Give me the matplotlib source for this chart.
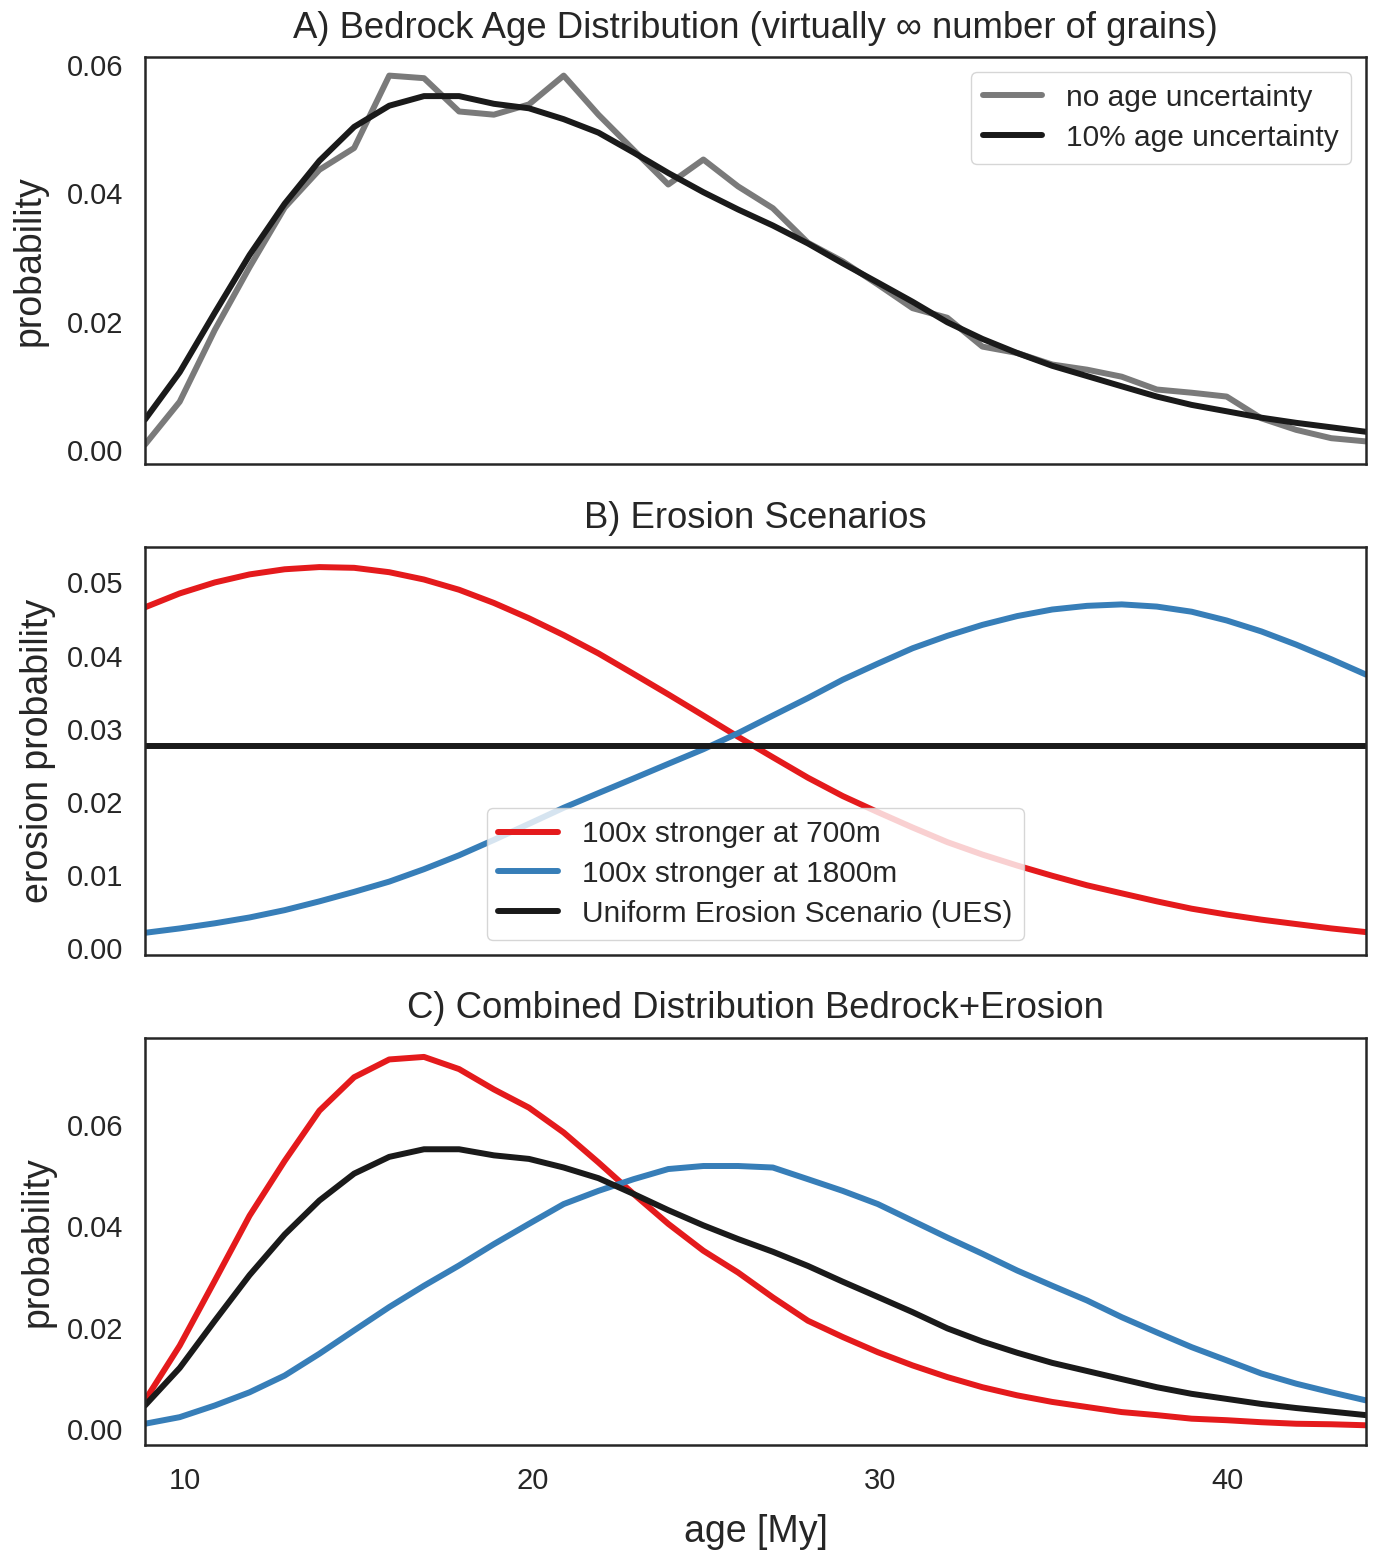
import matplotlib
matplotlib.use("Agg")
import matplotlib.pyplot as plt
import seaborn as sns

sns.set_style("white")
plt.rcParams['font.family'] = ['Liberation Sans', 'DejaVu Sans']

# age grid [My]
ages = [8.85, 9.85, 10.86, 11.86, 12.87, 13.87, 14.87, 15.88, 16.88, 17.89,
        18.89, 19.90, 20.90, 21.90, 22.91, 23.91, 24.92, 25.92, 26.92, 27.93,
        28.93, 29.94, 30.94, 31.94, 32.95, 33.95, 34.96, 35.96, 36.96, 37.97,
        38.97, 39.98, 40.98, 41.98, 42.99, 43.99]

# A) bedrock age distribution
bedrock_raw = [0.0008, 0.0075, 0.0187, 0.0285, 0.0378, 0.0437, 0.0471, 0.0584, 0.0580, 0.0528,
               0.0523, 0.0539, 0.0584, 0.0523, 0.0468, 0.0414, 0.0453, 0.0411, 0.0377, 0.0323,
               0.0294, 0.0258, 0.0221, 0.0206, 0.0161, 0.0151, 0.0133, 0.0125, 0.0114, 0.0094,
               0.0089, 0.0083, 0.0049, 0.0031, 0.0018, 0.0013]
bedrock_10pct = [0.0047, 0.0121, 0.0214, 0.0304, 0.0384, 0.0451, 0.0504, 0.0537, 0.0552, 0.0552,
                 0.0540, 0.0533, 0.0516, 0.0495, 0.0464, 0.0432, 0.0402, 0.0375, 0.0350, 0.0322,
                 0.0291, 0.0261, 0.0231, 0.0199, 0.0173, 0.0151, 0.0131, 0.0115, 0.0099, 0.0083,
                 0.0070, 0.0060, 0.0050, 0.0042, 0.0035, 0.0028]

# B) erosion scenarios
erosion_700 = [0.0466, 0.0485, 0.0500, 0.0511, 0.0518, 0.0521, 0.0520, 0.0514, 0.0504, 0.0490,
               0.0472, 0.0451, 0.0428, 0.0403, 0.0375, 0.0347, 0.0318, 0.0289, 0.0261, 0.0233,
               0.0208, 0.0186, 0.0165, 0.0145, 0.0128, 0.0113, 0.0099, 0.0086, 0.0075, 0.0064,
               0.0054, 0.0046, 0.0039, 0.0033, 0.0027, 0.0022]
erosion_1800 = [0.0021, 0.0027, 0.0034, 0.0042, 0.0052, 0.0064, 0.0077, 0.0091, 0.0108, 0.0127,
                0.0148, 0.0170, 0.0192, 0.0212, 0.0232, 0.0252, 0.0272, 0.0294, 0.0318, 0.0342,
                0.0367, 0.0389, 0.0410, 0.0427, 0.0442, 0.0454, 0.0463, 0.0468, 0.0470, 0.0467,
                0.0460, 0.0448, 0.0433, 0.0415, 0.0395, 0.0374]
erosion_ues = [0.0277] * len(ages)

# C) combined bedrock + erosion
comb_700 = [0.0057, 0.0165, 0.0293, 0.0421, 0.0529, 0.0628, 0.0694, 0.0729, 0.0734, 0.0710,
            0.0670, 0.0634, 0.0585, 0.0526, 0.0464, 0.0405, 0.0352, 0.0309, 0.0260, 0.0214,
            0.0182, 0.0152, 0.0126, 0.0103, 0.0083, 0.0067, 0.0054, 0.0044, 0.0034, 0.0028,
            0.0021, 0.0018, 0.0014, 0.0011, 0.0010, 0.0008]
comb_1800 = [0.0011, 0.0024, 0.0047, 0.0073, 0.0106, 0.0149, 0.0195, 0.0241, 0.0283, 0.0323,
             0.0365, 0.0405, 0.0444, 0.0470, 0.0493, 0.0513, 0.0519, 0.0519, 0.0516, 0.0493,
             0.0470, 0.0444, 0.0411, 0.0378, 0.0346, 0.0313, 0.0283, 0.0254, 0.0221, 0.0191,
             0.0162, 0.0136, 0.0110, 0.0090, 0.0073, 0.0057]

red = '#e41a1c'
blue = '#377eb8'
dark = '#1a1a1a'
grey = '#7a7a7a'
lw = 4.3

fig, axes = plt.subplots(3, 1, figsize=(13.78, 15.54), dpi=100, sharex=True)
plt.subplots_adjust(left=0.1052, right=0.9913, top=0.9633, bottom=0.0701, hspace=0.2034)
ax1, ax2, ax3 = axes

ax1.plot(ages, bedrock_raw, color=grey, lw=lw, label='no age uncertainty')
ax1.plot(ages, bedrock_10pct, color=dark, lw=lw, label='10% age uncertainty')
ax1.set_title('A) Bedrock Age Distribution (virtually \u221e number of grains)', fontsize=26.3, pad=14)
ax1.set_ylabel('probability', fontsize=27, labelpad=14)
ax1.set_ylim(-0.0023, 0.0613)
ax1.set_yticks([0.0, 0.02, 0.04, 0.06])
ax1.legend(loc='upper right', fontsize=21.5, labelspacing=0.4)

ax2.plot(ages, erosion_700, color=red, lw=lw, label='100x stronger at 700m')
ax2.plot(ages, erosion_1800, color=blue, lw=lw, label='100x stronger at 1800m')
ax2.plot(ages, erosion_ues, color=dark, lw=lw, label='Uniform Erosion Scenario (UES)')
ax2.set_title('B) Erosion Scenarios', fontsize=26.3, pad=14)
ax2.set_ylabel('erosion probability', fontsize=27, labelpad=8)
ax2.set_ylim(-0.0009, 0.0548)
ax2.set_yticks([0.0, 0.01, 0.02, 0.03, 0.04, 0.05])
ax2.legend(loc='lower center', fontsize=21.5, labelspacing=0.4)

ax3.plot(ages, comb_700, color=red, lw=lw)
ax3.plot(ages, comb_1800, color=blue, lw=lw)
ax3.plot(ages, bedrock_10pct, color=dark, lw=lw)
ax3.set_title('C) Combined Distribution Bedrock+Erosion', fontsize=26.3, pad=14)
ax3.set_ylabel('probability', fontsize=27, labelpad=8)
ax3.set_xlabel('age [My]', fontsize=27, labelpad=14)
ax3.set_ylim(-0.0031, 0.0772)
ax3.set_yticks([0.0, 0.02, 0.04, 0.06])
ax3.set_xlim(ages[0], ages[-1])
ax3.set_xticks([10, 20, 30, 40])

for ax in axes:
    ax.tick_params(labelsize=21, pad=12)
    for sp in ax.spines.values():
        sp.set_linewidth(1.8)
        sp.set_color('.15')

plt.savefig('out.png')
plt.close()
